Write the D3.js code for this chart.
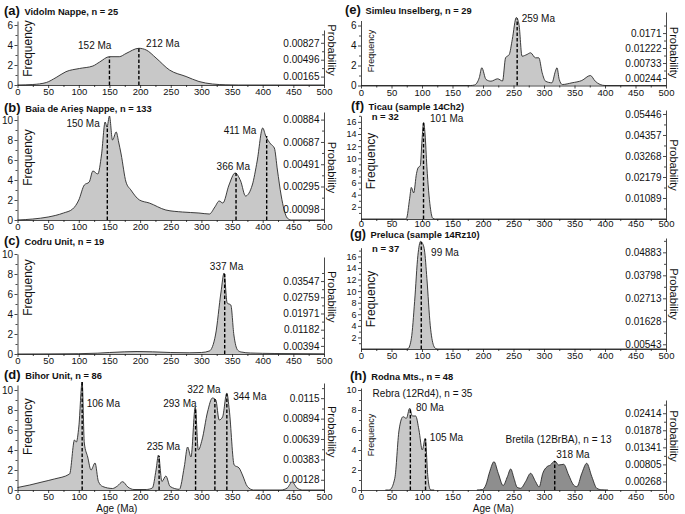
<!DOCTYPE html>
<html><head><meta charset="utf-8">
<script src="https://cdn.jsdelivr.net/npm/d3@7"></script>
<style>
body{margin:0;background:#fff}
svg{display:block}
text{font-family:"Liberation Sans",Arial,sans-serif;fill:#111}
</style>
</head><body>
<svg id="c" width="685" height="514"></svg>
<script>
// ---------------- DATA ----------------
const xTicks = [0,50,100,150,200,250,300,350,400,450,500];

// (a) Vidolm Nappe
const aAge  = [0,25,47,63,79,101,123,134,150,166,177,198,210,226,248,275,296,318,340,360,500];
const aFreq = [0,0.05,0.25,0.75,1.33,1.65,1.9,2.3,2.83,2.83,3.15,3.67,3.5,2.7,1.5,0.85,0.35,0.1,0.02,0,0];
const aDashAge = [150,198], aDashTop = [2.83,3.67];
const aPeakLabels = ["152 Ma","212 Ma"];
const aFreqTicks = [0,2,4,6];
const aProbTicks = [0.00165,0.00496,0.00827];

// (b) Baia de Aries Nappe
const bAge  = [0,25,50,75,90,100,109,117,123,131,137,143,146,150,155,161,165,169,177,185,199,215,242,269,296,313,322,329,335,345,355,364,372,383,391,400,405,413,419,424,430,435,440,447,500];
const bFreq = [0,0.1,0.3,0.7,1.1,2.0,3.5,3.8,4.9,4.6,6.5,9.8,9.3,10.4,8.0,8.8,7.8,6.6,3.8,3.0,2.0,1.7,1.0,0.8,0.7,0.6,1.3,1.9,1.7,3.5,4.7,3.9,2.4,3.5,5.9,9.2,8.4,7.6,7.2,5.0,2.5,1.0,0.2,0,0];
const bDashAge = [146.5,356.5,406.5], bDashTop = [9.4,4.7,8.4];
const bPeakLabels = ["150 Ma","366 Ma","411 Ma"];
const bFreqTicks = [0,2,4,6,8,10];
const bProbTicks = [0.00098,0.00295,0.00491,0.00687,0.00884];

// (c) Codru Unit
const cAge  = [0,50,100,130,150,175,195,220,250,280,300,313,323,332,337,342,348,353,359,365,380,420,500];
const cFreq = [0,0.01,0.03,0.08,0.15,0.22,0.25,0.22,0.15,0.12,0.15,0.3,1.9,6.2,8.1,5.1,4.9,1.9,0.4,0.2,0.1,0.05,0.02];
const cDashAge = [338], cDashTop = [8.0];
const cPeakLabels = ["337 Ma"];
const cFreqTicks = [0,2,4,6,8,10];
const cProbTicks = [0.00394,0.01182,0.01971,0.02759,0.03547];

// (d) Bihor Unit
const dAge  = [0,20,40,60,85,93,96,100,105.5,109,114.5,120,126.5,132,139,155,163,171.5,180,190,210,220,226,230,235.6,242,249,264,272,277.5,283,290,295,301,310,318,323.5,329,334.5,341.5,345.5,353.5,361.5,367,375,385,430,440,448,456,465,500];
const dFreq = [0.25,0.5,0.8,1.1,1.6,5.0,4.8,6.3,10.8,4.7,3.3,2.0,2.7,0.85,0.35,0.15,0.4,0.83,0.3,0.05,0.05,0.2,2.0,3.5,0.85,1.4,0.35,0.07,2.3,4.3,3.3,8.3,4.0,5.0,7.8,9.2,9.0,7.0,7.3,9.7,8.0,2.5,2.2,1.5,0.35,0,0,0.2,0.8,0.2,0,0];
const dDashAge = [105.5,231,290.5,322,341.5], dDashTop = [10.8,3.4,8.2,9.1,9.6];
const dPeakLabels = ["106 Ma","235 Ma","293 Ma","322 Ma","344 Ma"];
const dFreqTicks = [0,2,4,6,8,10];
const dProbTicks = [0.00128,0.00383,0.00639,0.00894,0.0115];

// (e) Simleu Inselberg
const eAge  = [0,180,186,194,198,205,213,224,232,237,243,248,254.6,259,264,272,278,286,291.5,297,302.5,313,318.7,321.3,325,330,346,362,376,384,392,400,500];
const eFreq = [0,0,0.05,0.8,1.77,0.6,0.43,0.67,0.45,2.77,3.1,4.6,6.8,6.1,2.93,3.1,3.27,2.77,2.77,1.27,0.43,0.27,1.43,1.77,0.6,0.1,0.27,0.5,1.0,0.43,0.1,0,0];
const eDashAge = [256], eDashTop = [6.7];
const ePeakLabels = ["259 Ma"];
const eFreqTicks = [0,2,4,6];
const eProbTicks = [0.00244,0.00733,0.01222,0.0171];

// (f) Ticau
const fAge  = [0,72,74.5,79.8,82.5,86.3,91,93.4,97.2,100,102.6,105,108,113.5,117.8,122,500];
const fFreq = [0,0,0.1,3.4,5.2,4.3,7.5,8.4,8.8,13,15.9,14,8.6,2.0,0.1,0,0];
const fDashAge = [102.5], fDashTop = [15.8];
const fPeakLabels = ["101 Ma"];
const fFreqTicks = [2,4,6,8,10,12,14,16];
const fProbTicks = [0.01089,0.02179,0.03268,0.04357,0.05446];

// (g) Preluca
const gAge  = [0,74,77,82.6,87.9,93.3,97.7,100,104,108,113.5,119,123,126,500];
const gFreq = [0,0,0.05,1.85,8.2,16.2,18.6,18.4,17.1,12.2,4.1,0.6,0.05,0,0];
const gDashAge = [98.8], gDashTop = [18.5];
const gPeakLabels = ["99 Ma"];
const gFreqTicks = [2,4,6,8,10,12,14,16];
const gProbTicks = [0.00543,0.01628,0.02713,0.03798,0.04883];

// (h) Rodna Mts.
const hRebraAge  = [40,45,47.2,55.4,62.4,69,74.4,79.8,84.2,89.6,95,100.5,105.3,109.6,113.5,116,120];
const hRebraFreq = [0,0,0.02,1.17,6.0,7.33,7.17,8.17,7.4,7.4,6.0,4.0,5.17,1.33,0.05,0,0];
const hBretAge  = [190,199.2,204.7,211,218,225,233,240,245.4,250.8,256,261.7,269.8,278,286.2,292,298,305,310.5,317.6,324,332.2,340.4,348.5,353.9,362,370,378.4,386.6,394.8,405];
const hBretFreq = [0,0.05,0.5,1.83,2.83,1.67,0.45,1.33,2.1,1.17,0.27,0.17,0.83,1.67,0.83,0.3,1.67,2.33,2.5,2.9,2.5,2.57,1.5,0.5,0.33,1.67,2.67,1.33,0.17,0.02,0];
const hDashAge = [80.9,105.8,317.6], hDashTop = [8.1,5.1,2.9];
const hPeakLabels = ["80 Ma","105 Ma","318 Ma"];
const hFreqTicks = [0,2,4,6,8,10];
const hProbTicks = [0.00268,0.00805,0.01341,0.01878,0.02414];

// ---------------- LAYOUT ----------------
const cols = [{x0:17.5, x1:324}, {x0:361, x1:666}];
const LIGHT = "#c8c8c8", DARK = "#8e8e8e";

const panels = [
 {key:"(a)", title:"Vidolm Nappe, n = 25", col:0, base:85, leftTop:21, rightTop:30, freqMax:6.4, probMin:0, probMax:0.01078,
  freqTicks:aFreqTicks, probTicks:aProbTicks, titleX:4, titleY:15, fLabY:48.5, pLabY:50, fSize:12, yFont:10, xPad:0.5,
  series:[{age:aAge,freq:aFreq,fill:LIGHT}], dashAge:aDashAge, dashTop:aDashTop,
  labels:aPeakLabels, labelPos:[[126,4.0],[237,4.2]]},
 {key:"(b)", title:"Baia de Arieş Nappe, n = 133", col:0, base:220, leftTop:115, rightTop:112, freqMax:10.5, probMin:0, probMax:0.00951,
  freqTicks:bFreqTicks, probTicks:bProbTicks, titleX:4, titleY:112, fLabY:157.5, pLabY:167.5, fSize:12, yFont:10, xPad:0.5,
  series:[{age:bAge,freq:bFreq,fill:LIGHT}], dashAge:bDashAge, dashTop:bDashTop,
  labels:bPeakLabels, labelPos:[[107,9.67],[352,5.38],[363,8.92]]},
 {key:"(c)", title:"Codru Unit, n = 19", col:0, base:354, leftTop:254, rightTop:257, freqMax:10, probMin:0, probMax:0.04718,
  freqTicks:cFreqTicks, probTicks:cProbTicks, titleX:4, titleY:245, fLabY:287.5, pLabY:296.7, fSize:12, yFont:10, xPad:0.5,
  series:[{age:cAge,freq:cFreq,fill:LIGHT}], dashAge:cDashAge, dashTop:cDashTop,
  labels:cPeakLabels, labelPos:[[341,8.73]]},
 {key:"(d)", title:"Bihor Unit, n = 86", col:0, base:490, leftTop:385, rightTop:383, freqMax:10.5, probMin:0, probMax:0.0134,
  freqTicks:dFreqTicks, probTicks:dProbTicks, titleX:4, titleY:378.5, fLabY:426.7, pLabY:431.7, fSize:12, yFont:10, xPad:0,
  series:[{age:dAge,freq:dFreq,fill:LIGHT}], dashAge:dDashAge, dashTop:dDashTop,
  labels:dPeakLabels, labelPos:[[140,8.67],[238,4.33],[265,8.67],[304,10.07],[379,9.33]], axisTitleAge:162},
 {key:"(e)", title:"Simleu Inselberg, n = 29", col:1, base:85.5, leftTop:20.5, rightTop:12, freqMax:6.5, probMin:0, probMax:0.02397,
  freqTicks:eFreqTicks, probTicks:eProbTicks, titleX:345, titleY:13.5, fLabY:51, pLabY:52.5, fSize:9, yFont:10, xPad:0.5,
  series:[{age:eAge,freq:eFreq,fill:LIGHT}], dashAge:eDashAge, dashTop:eDashTop,
  labels:ePeakLabels, labelPos:[[290.7,6.72]]},
 {key:"(f)", title:"Ticau (sample 14Ch2)", col:1, base:219, leftTop:115.8, rightTop:110, freqMax:17, probMin:0, probMax:0.05653,
  freqTicks:fFreqTicks, probTicks:fProbTicks, titleX:351, titleY:109.5, fLabY:161, pLabY:165, fSize:12, yFont:9, xPad:-1.5,
  nText:"n = 32", nPos:[17.5,16.9],
  series:[{age:fAge,freq:fFreq,fill:LIGHT}], dashAge:fDashAge, dashTop:fDashTop,
  labels:fPeakLabels, labelPos:[[140.5,16.5]]},
 {key:"(g)", title:"Preluca (sample 14Rz10)", col:1, base:349, leftTop:247.7, rightTop:238, freqMax:17.5, probMin:0.0032, probMax:0.0556,
  freqTicks:gFreqTicks, probTicks:gProbTicks, titleX:350, titleY:238, keySize:12.5, fLabY:299, pLabY:294, fSize:12, yFont:9, xPad:0.5,
  nText:"n = 37", nPos:[18,17.3],
  series:[{age:gAge,freq:gFreq,fill:LIGHT}], dashAge:gDashAge, dashTop:gDashTop,
  labels:gPeakLabels, labelPos:[[137.7,16.7]]},
 {key:"(h)", title:"Rodna Mts., n = 48", col:1, base:490, leftTop:388, rightTop:400, freqMax:10.2, probMin:0, probMax:0.0283,
  freqTicks:hFreqTicks, probTicks:hProbTicks, titleX:350, titleY:379.5, fLabY:435, pLabY:436, fSize:9, yFont:9, xPad:0,
  series:[{age:hRebraAge,freq:hRebraFreq,fill:LIGHT},{age:hBretAge,freq:hBretFreq,fill:DARK}], dashAge:hDashAge, dashTop:hDashTop,
  labels:hPeakLabels, labelPos:[[113,8.3],[140.2,5.3],[347.5,3.6]],
  extra:[["Rebra (12Rd4), n = 35",100.8,9.7],["Bretila (12BrBA), n = 13",323.8,5.1]], axisTitleAge:217}
];

// ---------------- DRAW ----------------
const svg = d3.select("#c");
const AX = "#1a1a1a";

function styleAxis(sel, fs){
  sel.selectAll("path.domain").attr("stroke",AX).attr("stroke-width",0.8);
  sel.selectAll(".tick line").attr("stroke",AX).attr("stroke-width",0.8);
  sel.selectAll(".tick text").style("font-size",(fs||10)+"px").attr("fill","#111");
}

panels.forEach(p=>{
  const c = cols[p.col];
  const x  = d3.scaleLinear().domain([0,500]).range([c.x0,c.x1]);
  const y  = d3.scaleLinear().domain([0,p.freqMax]).range([p.base,p.leftTop]);
  const yp = d3.scaleLinear().domain([p.probMin,p.probMax]).range([p.base,p.rightTop]);
  const g = svg.append("g");

  // areas + outlines
  p.series.forEach(s=>{
    const pts = s.age.map((a,i)=>[a,s.freq[i]]);
    g.append("path").datum(pts)
      .attr("d", d3.area().x(d=>x(d[0])).y0(p.base).y1(d=>y(d[1])).curve(d3.curveMonotoneX))
      .attr("fill", s.fill);
    g.append("path").datum(pts)
      .attr("d", d3.line().x(d=>x(d[0])).y(d=>y(d[1])).curve(d3.curveMonotoneX))
      .attr("fill","none").attr("stroke","#2a2a2a").attr("stroke-width",0.9);
  });

  // dashed peak lines
  p.dashAge.forEach((a,i)=>{
    g.append("line").attr("x1",x(a)).attr("x2",x(a))
      .attr("y1",p.base).attr("y2",y(p.dashTop[i]))
      .attr("stroke","#000").attr("stroke-width",1.4).attr("stroke-dasharray","3.5,2");
  });

  // x axis (major + minor)
  const minorX = d3.range(25,500,50);
  g.append("g").attr("transform",`translate(0,${p.base})`)
    .call(d3.axisBottom(x).tickValues(minorX).tickSize(2).tickFormat("").tickSizeOuter(0))
    .call(s=>{s.select(".domain").remove(); styleAxis(s);});
  g.append("g").attr("transform",`translate(0,${p.base})`)
    .call(d3.axisBottom(x).tickValues(xTicks).tickSize(3).tickPadding(p.xPad).tickSizeOuter(0).tickFormat(d3.format("d")))
    .call(s=>styleAxis(s,9.5));

  // left frequency axis
  const fStep = p.freqTicks[1]-p.freqTicks[0];
  const fMinor = d3.range(p.freqTicks[0]-fStep/2, p.freqMax+1e-9, fStep).filter(v=>v>0);
  g.append("g").attr("transform",`translate(${c.x0},0)`)
    .call(d3.axisLeft(y).tickValues(fMinor).tickSize(2).tickFormat("").tickSizeOuter(0))
    .call(s=>{s.select(".domain").remove(); styleAxis(s);});
  g.append("g").attr("transform",`translate(${c.x0},0)`)
    .call(d3.axisLeft(y).tickValues(p.freqTicks).tickSize(3).tickPadding(1.5).tickSizeOuter(0).tickFormat(d3.format("d")))
    .call(s=>styleAxis(s,p.yFont));

  // right probability axis (ticks and labels on inner side)
  const pStep = p.probTicks[1]-p.probTicks[0];
  const pMinor = d3.range(p.probTicks[0]-pStep/2, p.probMax+1e-12, pStep).filter(v=>v>p.probMin);
  g.append("g").attr("transform",`translate(${c.x1},0)`)
    .call(d3.axisLeft(yp).tickValues(pMinor).tickSize(2).tickFormat("").tickSizeOuter(0))
    .call(s=>{s.select(".domain").remove(); styleAxis(s);});
  g.append("g").attr("transform",`translate(${c.x1},0)`)
    .call(d3.axisLeft(yp).tickValues(p.probTicks).tickSize(3).tickPadding(1.5).tickSizeOuter(0)
      .tickFormat(d=>String(d)))
    .call(s=>styleAxis(s,10));

  // axis titles
  g.append("text").attr("transform",`translate(${c.x0+10},${p.fLabY}) rotate(-90)`)
    .attr("text-anchor","middle").attr("dy","0.35em").style("font-size",p.fSize+"px").text("Frequency");
  g.append("text").attr("transform",`translate(${c.x1+7.5},${p.pLabY}) rotate(90)`)
    .attr("text-anchor","middle").attr("dy","0.35em").style("font-size","11px").text("Probability");
  if(p.axisTitleAge!==undefined){
    g.append("text").attr("x",x(p.axisTitleAge)).attr("y",511.5)
      .attr("text-anchor","middle").style("font-size","10px").text("Age (Ma)");
  }

  // panel title
  const t = g.append("text").attr("x",p.titleX).attr("y",p.titleY);
  t.append("tspan").style("font-size",(p.keySize||13)+"px").style("font-weight","bold").text(p.key);
  t.append("tspan").attr("dx",2).style("font-size","9.3px").style("font-weight","bold").text(" "+p.title);

  if(p.nText){
    g.append("text").attr("x",x(p.nPos[0])).attr("y",y(p.nPos[1])).attr("dy","0.35em")
      .style("font-size","9.5px").style("font-weight","bold").text(p.nText);
  }

  // peak labels
  p.labels.forEach((l,i)=>{
    g.append("text").attr("x",x(p.labelPos[i][0])).attr("y",y(p.labelPos[i][1])).attr("dy","0.35em")
      .attr("text-anchor","middle").style("font-size","10px").text(l);
  });
  (p.extra||[]).forEach(e=>{
    g.append("text").attr("x",x(e[1])).attr("y",y(e[2])).attr("dy","0.35em")
      .attr("text-anchor","middle").style("font-size","10px").text(e[0]);
  });
});
</script>
</body></html>
